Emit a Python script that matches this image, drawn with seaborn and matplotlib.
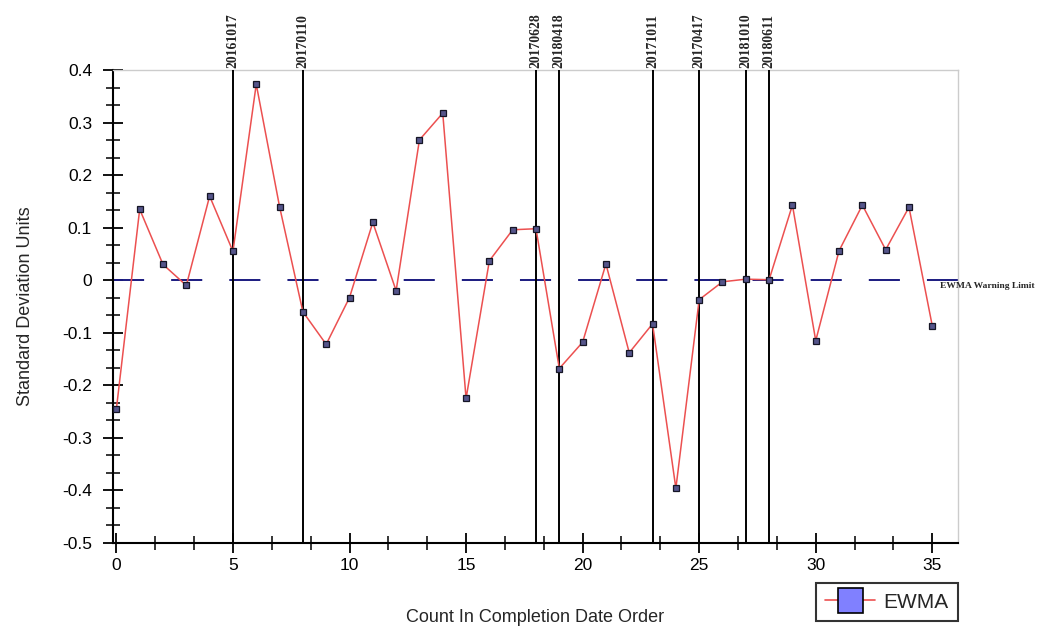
import numpy as np
import pandas as pd
import seaborn as sns
import matplotlib.pyplot as plt
from matplotlib.lines import Line2D
from matplotlib.ticker import MultipleLocator, FixedLocator, FixedFormatter

# data
counts = list(range(36))
ewma = [-0.245, 0.135, 0.030, -0.010, 0.160, 0.055, 0.373, 0.140, -0.060, -0.122,
        -0.033, 0.110, -0.020, 0.267, 0.318, -0.225, 0.037, 0.096, 0.098, -0.168,
        -0.118, 0.031, -0.138, -0.083, -0.396, -0.037, -0.003, 0.002, 0.001, 0.143,
        -0.115, 0.056, 0.143, 0.058, 0.139, -0.087]
event_x = [5, 8, 18, 19, 23, 25, 27, 28]
event_labels = ["20161017", "20170110", "20170628", "20180418",
                "20171011", "20170417", "20181010", "20180611"]
warning_limit = 0.0
y_ticks = [0.4, 0.3, 0.2, 0.1, 0.0, -0.1, -0.2, -0.3, -0.4, -0.5]
y_tick_labels = ["0.4", "0.3", "0.2", "0.1", "0", "-0.1", "-0.2", "-0.3", "-0.4", "-0.5"]

df = pd.DataFrame({"count": counts, "ewma": ewma})

sns.set_style("white")
plt.rcParams['font.family'] = ['Liberation Sans', 'DejaVu Sans']

fig = plt.figure(figsize=(10.55, 6.28), dpi=100)
ax = fig.add_axes([0.107, 0.1354, 0.801, 0.7531])

# warning limit
ax.axhline(warning_limit, color="#1a1a80", lw=1.4, dashes=(16, 13.9), zorder=2)
ax.text(35.35, warning_limit - 0.004, "EWMA Warning Limit", fontsize=6.8, fontweight="bold",
        family="Liberation Serif", va="top", ha="left", clip_on=False, zorder=6)

# event lines with labels above the plot
for xv, lab in zip(event_x, event_labels):
    ax.axvline(xv, color="black", lw=1.4, zorder=3)
    ax.text(xv, 0.403, lab, rotation=90, fontsize=9.8, fontweight="bold",
            family="Liberation Serif", ha="center", va="bottom", clip_on=False)

sns.lineplot(data=df, x="count", y="ewma", ax=ax, color="#ec5050", lw=1.1,
             marker="s", markersize=4.5, markerfacecolor="#55558a",
             markeredgecolor="#151525", markeredgewidth=0.9, zorder=4)

ax.set_xlim(-0.15, 36.1)
ax.set_ylim(-0.5, 0.4)
ax.xaxis.set_major_locator(MultipleLocator(5))
ax.xaxis.set_minor_locator(MultipleLocator(5 / 3))
ax.yaxis.set_major_locator(FixedLocator(y_ticks))
ax.yaxis.set_major_formatter(FixedFormatter(y_tick_labels))
ax.yaxis.set_minor_locator(MultipleLocator(0.1 / 3))
ax.tick_params(which="major", direction="inout", length=14, width=1.3, labelsize=12.5,
               colors="black")
ax.tick_params(axis="y", which="major", pad=8)
ax.tick_params(axis="x", which="major", pad=4)
ax.tick_params(which="minor", direction="inout", length=10, width=1.3)
ax.tick_params(axis="x", which="both", bottom=True)
ax.tick_params(axis="y", which="both", left=True)

for side in ["left", "bottom"]:
    ax.spines[side].set_color("black")
    ax.spines[side].set_linewidth(1.5)
for side in ["top", "right"]:
    ax.spines[side].set_color("#cccccc")
    ax.spines[side].set_linewidth(1.0)

ax.set_xlabel("Count In Completion Date Order", fontsize=13, labelpad=26)
ax.set_ylabel("Standard Deviation Units", fontsize=13, labelpad=20)

handle = Line2D([], [], color="#ec5050", lw=1.2, marker="s", markersize=18,
                markerfacecolor="#8080ff", markeredgecolor="black", markeredgewidth=1.2)
leg = fig.legend([handle], ["EWMA"], loc="lower right",
                 bbox_to_anchor=(958 / 1055, 1 - 621 / 628), fontsize=15,
                 frameon=True, fancybox=False, handlelength=2.4, borderpad=0.45,
                 handletextpad=0.4, borderaxespad=0)
leg.get_frame().set_edgecolor("black")
leg.get_frame().set_linewidth(1.5)

fig.savefig("out.png", dpi=100)
